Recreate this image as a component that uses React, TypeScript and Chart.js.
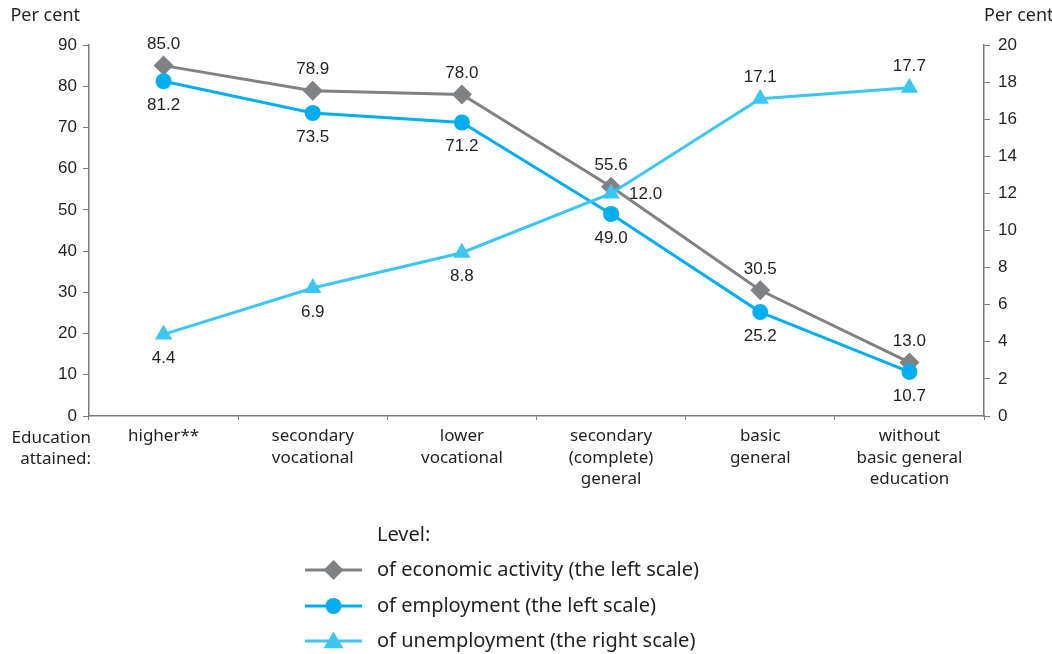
import React, { useEffect, useRef } from "react";
import { Chart, registerables } from "chart.js";

Chart.register(...registerables);

const categories: string[][] = [
  ["higher**"],
  ["secondary", "vocational"],
  ["lower", "vocational"],
  ["secondary", "(complete)", "general"],
  ["basic", "general"],
  ["without", "basic general", "education"],
];
const economicActivity = [85.0, 78.9, 78.0, 55.6, 30.5, 13.0];
const employment = [81.2, 73.5, 71.2, 49.0, 25.2, 10.7];
const unemployment = [4.4, 6.9, 8.8, 12.0, 17.1, 17.7];
const leftTicks = [0, 10, 20, 30, 40, 50, 60, 70, 80, 90];
const rightTicks = [0, 2, 4, 6, 8, 10, 12, 14, 16, 18, 20];

const econLabelPos = ["above", "above", "above", "above", "above", "above"];
const emplLabelPos = ["below", "below", "below", "below", "below", "below"];
const unemplLabelPos = ["below", "below", "below", "right", "above", "above"];

const seriesNames = [
  "of economic activity (the left scale)",
  "of employment (the left scale)",
  "of unemployment (the right scale)",
];

const GREY = "#808184";
const BLUE = "#00AEEF";
const LIGHT = "#3CC6F2";
const TEXT = "#231F20";
const AXIS = "#7a7a7a";
const NUM_FONT = "'Liberation Sans Narrow', 'Arial Narrow', 'Liberation Sans', sans-serif";
const TXT_FONT = "'Noto Sans', 'Open Sans', sans-serif";

function drawMarker(ctx: CanvasRenderingContext2D, style: string, x: number, y: number, r: number, color: string) {
  ctx.save();
  ctx.fillStyle = color;
  ctx.beginPath();
  if (style === "circle") {
    ctx.arc(x, y, r, 0, Math.PI * 2);
  } else if (style === "rectRot") {
    const s = r * 1.1;
    ctx.moveTo(x, y - s);
    ctx.lineTo(x + s, y);
    ctx.lineTo(x, y + s);
    ctx.lineTo(x - s, y);
    ctx.closePath();
  } else {
    const h = r * 1.6;
    ctx.moveTo(x, y - h * 0.6);
    ctx.lineTo(x + r, y + h * 0.45);
    ctx.lineTo(x - r, y + h * 0.45);
    ctx.closePath();
  }
  ctx.fill();
  ctx.restore();
}

const labelPlugin = {
  id: "customLabels",
  afterDatasetsDraw(chart: any) {
    const ctx = chart.ctx;
    const posSets = [econLabelPos, emplLabelPos, unemplLabelPos];
    ctx.save();
    ctx.fillStyle = TEXT;
    ctx.font = `17px ${NUM_FONT}`;
    chart.data.datasets.forEach((ds: any, i: number) => {
      const meta = chart.getDatasetMeta(i);
      meta.data.forEach((pt: any, j: number) => {
        const pos = posSets[i][j];
        const txt = Number(ds.data[j]).toFixed(1);
        ctx.textBaseline = "middle";
        if (pos === "above") {
          ctx.textAlign = "center";
          ctx.fillText(txt, pt.x, pt.y - 21);
        } else if (pos === "below") {
          ctx.textAlign = "center";
          ctx.fillText(txt, pt.x, pt.y + 24);
        } else {
          ctx.textAlign = "left";
          ctx.fillText(txt, pt.x + 18, pt.y + 1);
        }
      });
    });
    ctx.restore();
  },
  afterDraw(chart: any) {
    const ctx = chart.ctx;
    ctx.save();
    ctx.fillStyle = TEXT;
    ctx.font = `18px ${TXT_FONT}`;
    ctx.textBaseline = "middle";
    ctx.textAlign = "right";
    ctx.fillText("Per cent", 80, 16);
    ctx.font = `17px ${TXT_FONT}`;
    ctx.fillText("Education", 91, 438);
    ctx.fillText("attained:", 91, 459);
    ctx.font = `18px ${TXT_FONT}`;
    ctx.textAlign = "left";
    ctx.fillText("Per cent", 984, 16);

    // legend
    const lx0 = 305, lx1 = 362, tx = 377;
    ctx.font = `20px ${TXT_FONT}`;
    ctx.fillText("Level:", tx, 535);
    const rows = [570, 606, 641];
    const cols = [GREY, BLUE, LIGHT];
    const styles = ["rectRot", "circle", "triangle"];
    const radii = [9, 8, 10];
    rows.forEach((y, k) => {
      ctx.strokeStyle = cols[k];
      ctx.lineWidth = 3;
      ctx.beginPath();
      ctx.moveTo(lx0, y);
      ctx.lineTo(lx1, y);
      ctx.stroke();
      drawMarker(ctx, styles[k], (lx0 + lx1) / 2, y, radii[k], cols[k]);
      ctx.fillStyle = TEXT;
      ctx.fillText(seriesNames[k], tx, y);
    });
    ctx.restore();
  },
};

export default function App() {
  const ref = useRef<HTMLCanvasElement>(null);
  useEffect(() => {
    if (!ref.current) return;
    const chart = new Chart(ref.current, {
      type: "line",
      data: {
        labels: categories as any,
        datasets: [
          {
            label: seriesNames[0],
            data: economicActivity,
            yAxisID: "y",
            borderColor: GREY,
            backgroundColor: GREY,
            borderWidth: 3,
            pointStyle: "rectRot",
            pointRadius: 10,
            pointBorderWidth: 0,
            order: 3,
          },
          {
            label: seriesNames[1],
            data: employment,
            yAxisID: "y",
            borderColor: BLUE,
            backgroundColor: BLUE,
            borderWidth: 3,
            pointStyle: "circle",
            pointRadius: 8,
            pointBorderWidth: 0,
            order: 2,
          },
          {
            label: seriesNames[2],
            data: unemployment,
            yAxisID: "y1",
            borderColor: LIGHT,
            backgroundColor: LIGHT,
            borderWidth: 3,
            pointStyle: "triangle",
            pointRadius: 10,
            pointBorderWidth: 0,
            order: 1,
          },
        ],
      },
      options: {
        responsive: false,
        animation: false,
        layout: { padding: { top: 45, left: 0, right: 0, bottom: 0 } },
        plugins: { legend: { display: false }, tooltip: { enabled: false } },
        scales: {
          x: {
            offset: true,
            grid: {
              offset: true,
              drawOnChartArea: false,
              drawTicks: true,
              tickLength: 4,
              color: AXIS,
            },
            border: { display: true, color: AXIS, width: 1.5 },
            ticks: {
              color: TEXT,
              font: { family: TXT_FONT, size: 17, lineHeight: 1.25 },
              padding: 6,
              maxRotation: 0,
              autoSkip: false,
            },
            afterFit(scale: any) {
              scale.height = 238;
            },
          },
          y: {
            position: "left",
            min: 0,
            max: 90,
            afterBuildTicks(scale: any) {
              scale.ticks = leftTicks.map((v) => ({ value: v }));
            },
            grid: { drawOnChartArea: false, drawTicks: true, tickLength: 6, color: AXIS },
            border: { display: true, color: AXIS, width: 1.5 },
            ticks: {
              color: TEXT,
              font: { family: NUM_FONT, size: 17 },
              padding: 6,
            },
            afterFit(scale: any) {
              scale.width = 89;
            },
          },
          y1: {
            position: "right",
            min: 0,
            max: 20,
            afterBuildTicks(scale: any) {
              scale.ticks = rightTicks.map((v) => ({ value: v }));
            },
            grid: { drawOnChartArea: false, drawTicks: true, tickLength: 6, color: AXIS },
            border: { display: true, color: AXIS, width: 1.5 },
            ticks: {
              color: TEXT,
              font: { family: NUM_FONT, size: 17 },
              padding: 8,
            },
            afterFit(scale: any) {
              scale.width = 68;
            },
          },
        },
      },
      plugins: [labelPlugin],
    });
    return () => chart.destroy();
  }, []);
  return (
    <div style={{ position: "absolute", left: 0, top: 0, width: 1052, height: 654, background: "#fff" }}>
      <canvas ref={ref} width={1052} height={654} style={{ width: 1052, height: 654 }} />
    </div>
  );
}
